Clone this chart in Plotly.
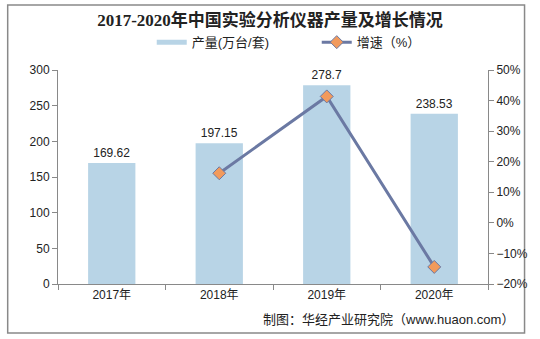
import plotly.graph_objects as go

years = ["2017年", "2018年", "2019年", "2020年"]
output = [169.62, 197.15, 278.7, 238.53]
growth_years = ["2018年", "2019年", "2020年"]
growth = [16.23, 41.36, -14.41]

fig = go.Figure()
fig.add_trace(go.Bar(
    x=years, y=output, name="产量(万台/套)", showlegend=False,
    marker=dict(color="#b8d4e6", line=dict(width=0)),
    text=[str(v) for v in output], textposition="outside",
    textfont=dict(size=12, color="#222", family="Liberation Sans, Arial"),
    cliponaxis=False,
))
# legend entry for bars drawn as a flat swatch, like the reference
fig.add_trace(go.Scatter(
    x=[None], y=[None], name="产量(万台/套)", mode="lines",
    line=dict(color="#b8d4e6", width=5), showlegend=True,
))
fig.add_trace(go.Scatter(
    x=growth_years, y=growth, name="增速（%）", yaxis="y2",
    mode="lines+markers",
    line=dict(color="#6b79a3", width=3),
    marker=dict(symbol="diamond", size=10, color="#f29a5c",
                line=dict(color="#6b79a3", width=1)),
))

axis_font = dict(size=12, color="#222", family="Liberation Sans, Arial, Noto Sans CJK SC")
fig.update_layout(
    width=540, height=339,
    margin=dict(l=58, r=47, t=70, b=55),
    paper_bgcolor="white", plot_bgcolor="white",
    title=dict(text="<b>2017-2020年中国实验分析仪器产量及增长情况</b>",
               x=0.5, xanchor="center", y=0.94, yanchor="middle",
               font=dict(size=17, color="#222",
                         family="Liberation Serif, Times New Roman, Noto Sans CJK SC")),
    legend=dict(orientation="h", x=0.218, xanchor="left", y=1.13, yanchor="middle",
                font=dict(size=13, color="#222", family="Liberation Sans, Noto Sans CJK SC"),
                bgcolor="rgba(0,0,0,0)", entrywidth=120, entrywidthmode="pixels",
                traceorder="normal"),
    bargap=0.56,
    xaxis=dict(type="category", showline=True, linecolor="#898989", linewidth=1,
               ticks="outside", tickcolor="#898989", ticklen=5,
               tickson="boundaries", tickfont=axis_font, showgrid=False),
    yaxis=dict(range=[0, 300], dtick=50, showline=True, linecolor="#898989",
               ticks="outside", tickcolor="#898989", ticklen=5,
               tickfont=axis_font, showgrid=False, zeroline=False),
    yaxis2=dict(range=[-20, 50], dtick=10, overlaying="y", side="right",
                showline=True, linecolor="#898989", ticks="outside",
                tickcolor="#898989", ticklen=5, ticksuffix="%",
                tickfont=axis_font, showgrid=False, zeroline=False),
    showlegend=True,
    shapes=[dict(type="rect", xref="paper", yref="paper",
                 x0=-0.117, x1=1.085, y0=-0.229, y1=1.304,
                 line=dict(color="#898989", width=1.5), fillcolor="rgba(0,0,0,0)",
                 layer="below")],
    annotations=[dict(text="制图：华经产业研究院（www.huaon.com）",
                      xref="paper", yref="paper", x=1.066, y=-0.168,
                      xanchor="right", yanchor="middle", showarrow=False,
                      font=dict(size=13, color="#222",
                                family="Liberation Sans, Noto Sans CJK SC"))],
)

fig.write_html("out.html")
